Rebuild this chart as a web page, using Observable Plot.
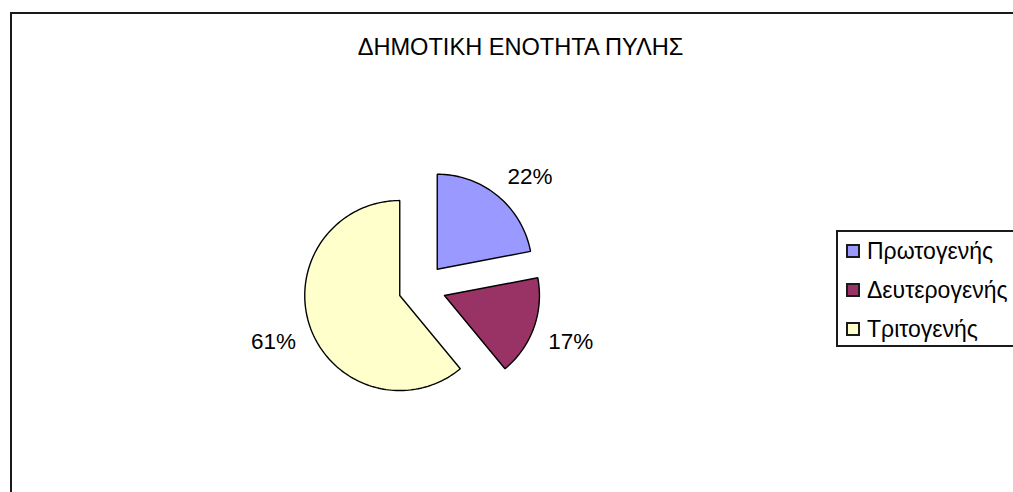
<!DOCTYPE html>
<html>
<head>
<meta charset="utf-8">
<script src="https://cdn.jsdelivr.net/npm/d3@7"></script>
<script src="https://cdn.jsdelivr.net/npm/@observablehq/plot@0.6"></script>
<style>
  html, body { margin: 0; padding: 0; background: #fff; }
  body { width: 1013px; height: 492px; overflow: hidden; position: relative; font-family: Arial, "Liberation Sans", sans-serif; }
  #frame { position: absolute; left: 10px; top: 12px; width: 1100px; height: 600px; border: 2px solid #1a1a1a; box-sizing: border-box; }
  #chart { position: absolute; left: 0; top: 0; }
  #title { position: absolute; left: 520.5px; top: 36px; transform: translateX(-50%); font-size: 23.6px; line-height: 23px; white-space: nowrap; color: #000; }
  #legend { position: absolute; left: 836px; top: 230px; width: 250px; height: 117px; border: 2px solid #1a1a1a; box-sizing: border-box; background: #fff; }
  .row { position: absolute; left: 0; height: 30px; display: flex; align-items: center; font-size: 23px; line-height: 30px; white-space: nowrap; color: #000; }
  .sw { width: 14px; height: 14px; box-sizing: border-box; border: 2px solid #1a1a1a; margin-left: 8px; margin-right: 7px; }
</style>
</head>
<body>
<div id="frame"></div>
<div id="chart"></div>
<div id="title"></div>
<div id="legend"></div>
<script>
// ---- data ----
const title = "ΔΗΜΟΤΙΚΗ ΕΝΟΤΗΤΑ ΠΥΛΗΣ";
const categories = ["Πρωτογενής", "Δευτερογενής", "Τριτογενής"];
const shares = [22, 17, 61];
const labels = ["22%", "17%", "61%"];
const colors = ["#9999FF", "#993366", "#FFFFCC"];

// ---- layout ----
const W = 1013, H = 492;
const R = 95;            // pie radius in px
const cx = 421.6, cy = 287; // pie centre in px
const explode = 0.25;    // explosion distance, in radii
const labelR = 1.16;     // label anchor distance from slice vertex, in radii

const arcs = d3.pie().sort(null).value(d => d)(shares);

const slices = arcs.map((a, i) => {
  const mid = (a.startAngle + a.endAngle) / 2;
  const ox = explode * Math.sin(mid), oy = explode * Math.cos(mid);
  const n = Math.max(8, Math.ceil((a.endAngle - a.startAngle) / (2 * Math.PI) * 240));
  const pts = [{x: ox, y: oy}];
  for (let k = 0; k <= n; k++) {
    const t = a.startAngle + (a.endAngle - a.startAngle) * k / n;
    pts.push({x: ox + Math.sin(t), y: oy + Math.cos(t)});
  }
  pts.push({x: ox, y: oy});
  return {
    category: categories[i], color: colors[i], pts,
    label: {x: ox + labelR * Math.sin(mid), y: oy + labelR * Math.cos(mid), text: labels[i]},
    anchor: Math.sin(mid) >= 0 ? "start" : "end",
    line: Math.cos(mid) >= 0 ? "bottom" : "top"
  };
});

const marks = [];
for (const s of slices) {
  marks.push(Plot.line(s.pts, {x: "x", y: "y", fill: s.color, stroke: "#000", strokeWidth: 1.4, strokeLinejoin: "miter", curve: "linear"}));
}
for (const s of slices) {
  marks.push(Plot.text([s.label], {x: "x", y: "y", text: "text", textAnchor: s.anchor, lineAnchor: s.line, fontSize: 22.5, fill: "#000"}));
}

const plot = Plot.plot({
  width: W, height: H, margin: 0,
  x: {domain: [-cx / R, (W - cx) / R], axis: null},
  y: {domain: [-(H - cy) / R, cy / R], axis: null},
  style: {background: "transparent", fontFamily: "Arial, 'Liberation Sans', sans-serif", overflow: "visible"},
  marks
});
document.getElementById("chart").append(plot);

document.getElementById("title").textContent = title;

const legend = document.getElementById("legend");
const rowCenters = [21, 60, 99]; // relative to legend box top
categories.forEach((c, i) => {
  const row = document.createElement("div");
  row.className = "row";
  row.style.top = (rowCenters[i] - 2 - 15) + "px";
  const sw = document.createElement("div");
  sw.className = "sw";
  sw.style.background = colors[i];
  const tx = document.createElement("span");
  tx.textContent = c;
  row.append(sw, tx);
  legend.append(row);
});
</script>
</body>
</html>
